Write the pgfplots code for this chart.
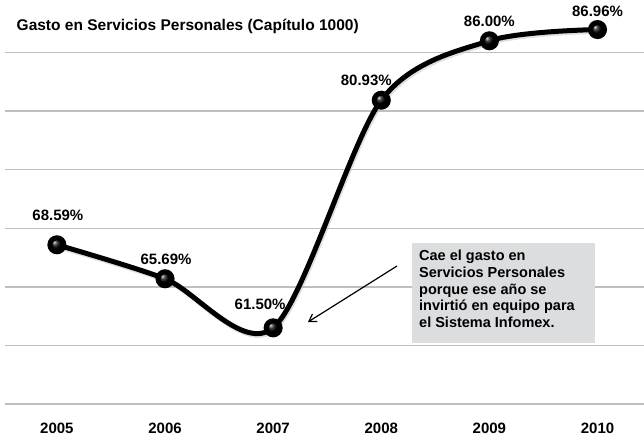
\documentclass[border=0pt]{standalone}
\usepackage{fontspec}
\setmainfont{Liberation Sans}
\usepackage{pgfplots}
\pgfplotsset{compat=1.18}
\usetikzlibrary{arrows.meta}
\definecolor{gridc}{HTML}{BFBFBF}
\definecolor{boxc}{HTML}{DCDDDF}
\begin{document}
\begin{tikzpicture}[x=1pt,y=1pt]
\begin{axis}[
  at={(5pt,32pt)}, anchor=south west,
  scale only axis, width=639pt, height=396pt,
  xmin=-0.48, xmax=5.43, ymin=55, ymax=88.8,
  axis line style={draw=none},
  xtick={0,1,2,3,4,5},
  xticklabels={2005,2006,2007,2008,2009,2010},
  xticklabel style={anchor=center, yshift=-24pt, font=\fontsize{15}{18}\selectfont\bfseries},
  major tick length=0pt,
  ytick={55,60,...,85}, yticklabels={},
  ymajorgrids, grid style={gridc, line width=1.5pt},
  clip=false,
]
\addplot[black!25, line width=5pt, smooth, tension=0.5, opacity=0.5, forget plot,
  transform canvas={xshift=1.2pt,yshift=-1.8pt}]
  coordinates {(0,68.59) (1,65.69) (2,61.50) (3,80.93) (4,86.00) (5,86.96)};
\addplot[black, line width=5pt, smooth, tension=0.5, mark=ball, mark size=7pt,
  mark options={ball color=black}]
  coordinates {(0,68.59) (1,65.69) (2,61.50) (3,80.93) (4,86.00) (5,86.96)};
\begin{scope}[every node/.style={font=\fontsize{15}{18}\selectfont\bfseries}]
\node at ([xshift=1pt,yshift=29pt]axis cs:0,68.59) {68.59\%};
\node at ([xshift=1pt,yshift=19pt]axis cs:1,65.69) {65.69\%};
\node at ([xshift=-13pt,yshift=24pt]axis cs:2,61.50) {61.50\%};
\node at ([xshift=-15pt,yshift=20pt]axis cs:3,80.93) {80.93\%};
\node at ([xshift=0pt,yshift=19pt]axis cs:4,86.00) {86.00\%};
\node at ([xshift=0pt,yshift=18pt]axis cs:5,86.96) {86.96\%};
\end{scope}
\end{axis}
\node[anchor=west, inner sep=0pt, font=\fontsize{15.5}{18}\selectfont\bfseries] at (16.5pt,410pt) {Gasto en Servicios Personales (Capítulo 1000)};
\fill[boxc] (412pt,93pt) rectangle (595pt,193pt);
\node[anchor=north west, align=left, inner sep=0pt, font=\fontsize{14.5}{16.7}\selectfont\bfseries] at (419pt,186pt)
  {Cae el gasto en\\Servicios Personales\\porque ese año se\\invirtió en equipo para\\el Sistema Infomex.};
\draw[line width=1.2pt, -{Straight Barb[length=7pt,width=9pt]}] (397pt,170pt) -- (308pt,114pt);
\pgfresetboundingbox
\path (0,0) rectangle (644pt,436pt);
\end{tikzpicture}
\end{document}
